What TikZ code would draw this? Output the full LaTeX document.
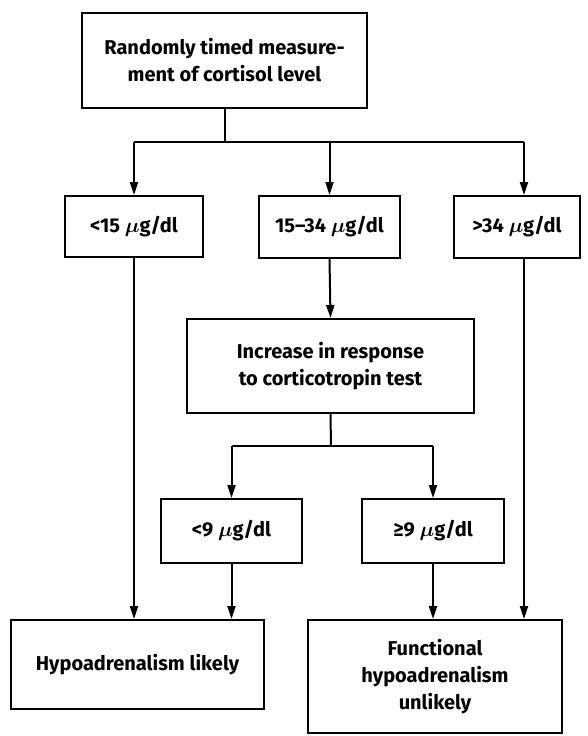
\documentclass[tikz,border=0pt]{standalone}
\usepackage{fontspec}
\setmainfont{Fira Sans}
\usetikzlibrary{arrows.meta}
\begin{document}
\begin{tikzpicture}[x=1pt,y=-1pt,
  box/.style={draw, line width=2pt, inner sep=0pt, align=center,
    font=\fontsize{20}{27}\selectfont\bfseries},
  conn/.style={line width=2pt},
  arr/.style={conn, -{Triangle[length=13pt,width=8pt]}}]
\useasboundingbox (0,0) rectangle (587,736);
\node[box, minimum width=285pt, minimum height=95pt] (top) at (224.5,60.5)
  {Randomly timed measure-\\ment of cortisol level};
\node[box, minimum width=138pt, minimum height=61pt] (b1) at (134,226.5)
  {<15 {\boldmath$\mu$}g/dl};
\node[box, minimum width=141pt, minimum height=62pt] (b2) at (329.5,227)
  {15–34 {\boldmath$\mu$}g/dl};
\node[box, minimum width=126pt, minimum height=62pt] (b3) at (517,227)
  {>34 {\boldmath$\mu$}g/dl};
\node[box, minimum width=287pt, minimum height=94pt] (inc) at (330.5,366)
  {Increase in response\\to corticotropin test};
\node[box, minimum width=141pt, minimum height=64pt] (c1) at (231.5,531)
  {<9 {\boldmath$\mu$}g/dl};
\node[box, minimum width=142pt, minimum height=64pt] (c2) at (433,531)
  {≥9 {\boldmath$\mu$}g/dl};
\node[box, minimum width=253pt, minimum height=89pt] (hypo) at (137.5,664.5)
  {Hypoadrenalism likely};
\node[box, minimum width=254pt, minimum height=113pt] (func) at (435,676.5)
  {Functional\\hypoadrenalism\\unlikely};
\coordinate (h1) at (223,142);
\coordinate (r3) at (524,142);
\coordinate (h2) at (331,446);
% top split
\draw[conn] (top.south) -- (top.south |- h1);
\draw[conn] (b1.north |- h1) -- (r3);
\draw[arr] (b1.north |- h1) -- (b1.north);
\draw[arr] (b2.north |- h1) -- (b2.north);
\draw[arr] (r3) -- (r3 |- b3.north);
% middle
\draw[arr] (b2.south) -- (inc.north);
\draw[conn] (inc.south) -- (h2);
\draw[conn] (c1.north |- h2) -- (c2.north |- h2);
\draw[arr] (c1.north |- h2) -- (c1.north);
\draw[arr] (c2.north |- h2) -- (c2.north);
% bottom
\draw[arr] (b1.south) -- (b1.south |- hypo.north);
\draw[arr] (c1.south) -- (c1.south |- hypo.north);
\draw[arr] (c2.south) -- (c2.south |- func.north);
\draw[arr] (r3 |- b3.south) -- (r3 |- func.north);
\end{tikzpicture}
\end{document}
